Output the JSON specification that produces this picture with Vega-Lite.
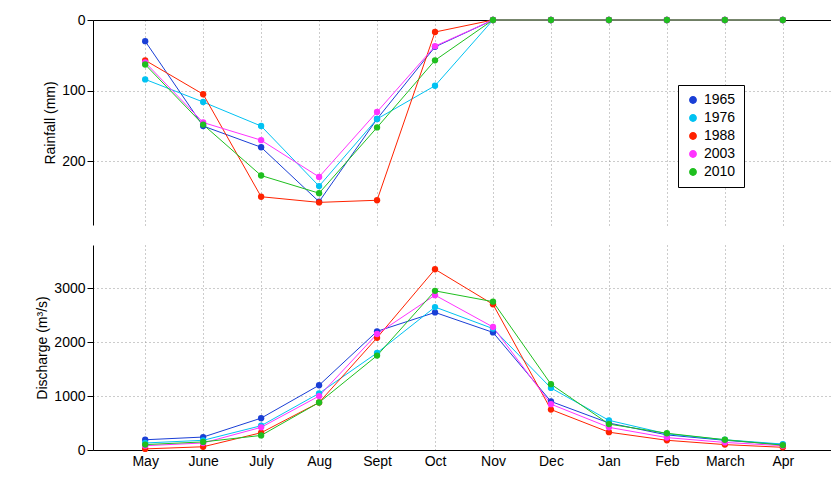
{
  "$schema": "https://vega.github.io/schema/vega-lite/v6.json",
  "padding": {"left": 35, "top": 13, "right": 0, "bottom": 5},
  "config": {"font": "Liberation Sans", "view": {"stroke": null},
    "axis": {"labelFontSize": 14, "titleFontSize": 14, "titleFontWeight": "normal", "labelColor": "#000", "titleColor": "#000", "domainColor": "#000", "tickColor": "#000", "gridColor": "#999", "gridDash": [1, 3]}},
  "data": {"values": [
    {"m":"May","y":"1965","r":30,"d":190},{"m":"June","y":"1965","r":150,"d":240},{"m":"July","y":"1965","r":180,"d":590},{"m":"Aug","y":"1965","r":257,"d":1200},{"m":"Sept","y":"1965","r":140,"d":2200},{"m":"Oct","y":"1965","r":38,"d":2550},{"m":"Nov","y":"1965","r":0,"d":2180},{"m":"Dec","y":"1965","r":0,"d":900},{"m":"Jan","y":"1965","r":0,"d":500},{"m":"Feb","y":"1965","r":0,"d":280},{"m":"March","y":"1965","r":0,"d":180},{"m":"Apr","y":"1965","r":0,"d":100},
    {"m":"May","y":"1976","r":84,"d":130},{"m":"June","y":"1976","r":116,"d":180},{"m":"July","y":"1976","r":150,"d":450},{"m":"Aug","y":"1976","r":235,"d":1050},{"m":"Sept","y":"1976","r":140,"d":1800},{"m":"Oct","y":"1976","r":93,"d":2650},{"m":"Nov","y":"1976","r":0,"d":2250},{"m":"Dec","y":"1976","r":0,"d":1150},{"m":"Jan","y":"1976","r":0,"d":550},{"m":"Feb","y":"1976","r":0,"d":300},{"m":"March","y":"1976","r":0,"d":190},{"m":"Apr","y":"1976","r":0,"d":110},
    {"m":"May","y":"1988","r":57,"d":20},{"m":"June","y":"1988","r":105,"d":60},{"m":"July","y":"1988","r":250,"d":320},{"m":"Aug","y":"1988","r":258,"d":880},{"m":"Sept","y":"1988","r":255,"d":2080},{"m":"Oct","y":"1988","r":17,"d":3350},{"m":"Nov","y":"1988","r":0,"d":2700},{"m":"Dec","y":"1988","r":0,"d":750},{"m":"Jan","y":"1988","r":0,"d":330},{"m":"Feb","y":"1988","r":0,"d":180},{"m":"March","y":"1988","r":0,"d":100},{"m":"Apr","y":"1988","r":0,"d":50},
    {"m":"May","y":"2003","r":60,"d":80},{"m":"June","y":"2003","r":145,"d":130},{"m":"July","y":"2003","r":170,"d":420},{"m":"Aug","y":"2003","r":222,"d":1000},{"m":"Sept","y":"2003","r":130,"d":2150},{"m":"Oct","y":"2003","r":37,"d":2870},{"m":"Nov","y":"2003","r":0,"d":2280},{"m":"Dec","y":"2003","r":0,"d":850},{"m":"Jan","y":"2003","r":0,"d":420},{"m":"Feb","y":"2003","r":0,"d":230},{"m":"March","y":"2003","r":0,"d":140},{"m":"Apr","y":"2003","r":0,"d":80},
    {"m":"May","y":"2010","r":63,"d":100},{"m":"June","y":"2010","r":148,"d":150},{"m":"July","y":"2010","r":220,"d":270},{"m":"Aug","y":"2010","r":245,"d":880},{"m":"Sept","y":"2010","r":152,"d":1750},{"m":"Oct","y":"2010","r":57,"d":2950},{"m":"Nov","y":"2010","r":0,"d":2750},{"m":"Dec","y":"2010","r":0,"d":1220},{"m":"Jan","y":"2010","r":0,"d":480},{"m":"Feb","y":"2010","r":0,"d":310},{"m":"March","y":"2010","r":0,"d":190},{"m":"Apr","y":"2010","r":0,"d":90}
  ]},
  "spacing": 20,
  "vconcat": [
    {
      "width": 742, "height": 205,
      "mark": {"type": "line", "point": {"size": 40, "filled": true, "opacity": 1}, "strokeWidth": 1},
      "encoding": {
        "x": {"field": "m", "type": "ordinal", "sort": null, "scale": {"type": "point", "padding": 0.9},
          "axis": {"orient": "top", "labels": false, "ticks": false, "title": null, "grid": true, "domain": true}},
        "y": {"field": "r", "type": "quantitative", "scale": {"domain": [0, 290], "reverse": true, "nice": false},
          "axis": {"title": "Rainfall (mm)", "values": [0, 100, 200], "grid": true, "tickSize": 6}},
        "color": {"field": "y", "type": "nominal", "scale": {"domain": ["1965","1976","1988","2003","2010"], "range": ["#1a3fd6","#00c2f2","#ff2200","#ff33ff","#1fbf1f"]},
          "legend": {"title": null, "orient": "none", "legendX": 585, "legendY": 65, "strokeColor": "#000", "fillColor": "#fff", "padding": 8, "labelFontSize": 14, "symbolType": "circle", "symbolSize": 40, "rowPadding": 4}}
      }
    },
    {
      "width": 742, "height": 205,
      "mark": {"type": "line", "point": {"size": 40, "filled": true, "opacity": 1}, "strokeWidth": 1},
      "encoding": {
        "x": {"field": "m", "type": "ordinal", "sort": null, "scale": {"type": "point", "padding": 0.9},
          "axis": {"title": null, "labelAngle": 0, "grid": true, "ticks": false, "labelPadding": 4}},
        "y": {"field": "d", "type": "quantitative", "scale": {"domain": [0, 3800], "nice": false},
          "axis": {"title": "Discharge (m³/s)", "format": "d", "values": [0, 1000, 2000, 3000], "grid": true, "tickSize": 6}},
        "color": {"field": "y", "type": "nominal", "legend": null}
      }
    }
  ]
}
